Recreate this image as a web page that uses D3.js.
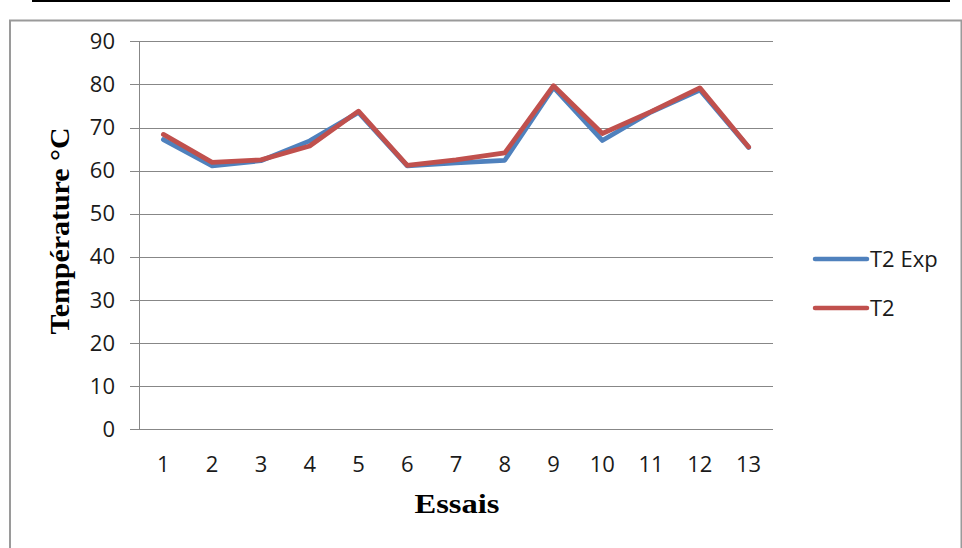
<!DOCTYPE html>
<html>
<head>
<meta charset="utf-8">
<script src="https://cdn.jsdelivr.net/npm/d3@7"></script>
<style>
  html, body { margin: 0; padding: 0; background: #fff; }
  svg { display: block; }
</style>
</head>
<body>
<svg id="chart" width="962" height="548"></svg>
<script>
// Trial numbers (x categories)
const essais = ["1","2","3","4","5","6","7","8","9","10","11","12","13"];
// Measured temperature T2 (experimental)
const t2Exp = [67.2, 61.1, 62.3, 66.9, 73.5, 61.1, 61.8, 62.4, 79.3, 67.0, 73.6, 78.7, 65.4];
// Computed temperature T2
const t2 = [68.4, 61.9, 62.5, 65.7, 73.8, 61.2, 62.5, 64.1, 79.7, 68.6, 73.7, 79.2, 65.5];
// Y axis ticks
const yTicks = [0, 10, 20, 30, 40, 50, 60, 70, 80, 90];

const seriesNames = ["T2 Exp", "T2"];
const seriesColors = ["#4f81bd", "#c0504d"];

const svg = d3.select("#chart");

// Page rule and chart frame
svg.append("line")
  .attr("x1", 32).attr("x2", 950).attr("y1", 1).attr("y2", 1)
  .attr("stroke", "#000").attr("stroke-width", 2);
svg.append("path")
  .attr("d", "M10,560 V20.5 H961.5 V560")
  .attr("fill", "none").attr("stroke", "#9a9a9a").attr("stroke-width", 2);

const plot = { left: 139, right: 773, top: 41.3, bottom: 429.3 };

const x = d3.scaleBand().domain(essais).range([plot.left, plot.right]);
const y = d3.scaleLinear().domain([0, 90]).range([plot.bottom, plot.top]);

const font = "'Open Sans', 'Noto Sans', sans-serif";

// Horizontal gridlines (including the baseline)
svg.append("g").selectAll("line").data(yTicks).join("line")
  .attr("x1", plot.left - 9).attr("x2", plot.right)
  .attr("y1", d => Math.round(y(d)) + 0.5).attr("y2", d => Math.round(y(d)) + 0.5)
  .attr("stroke", "#878787").attr("stroke-width", 1);

// Vertical axis line
svg.append("line")
  .attr("x1", plot.left + 0.5).attr("x2", plot.left + 0.5)
  .attr("y1", Math.round(y(90))).attr("y2", Math.round(y(0)) + 1)
  .attr("stroke", "#878787").attr("stroke-width", 1);

// Y tick labels
const yAxis = d3.axisLeft(y).tickValues(yTicks).tickSize(0).tickPadding(24);
const gy = svg.append("g").attr("transform", `translate(${plot.left},0)`).call(yAxis);
gy.select(".domain").remove();
gy.selectAll("text")
  .attr("font-family", font).attr("font-size", 22).attr("fill", "#1a1a1a");

// X tick labels
const xAxis = d3.axisBottom(x).tickSize(0).tickPadding(27);
const gx = svg.append("g").attr("transform", `translate(0,${plot.bottom})`).call(xAxis);
gx.select(".domain").remove();
gx.selectAll("text")
  .attr("font-family", font).attr("font-size", 22).attr("fill", "#1a1a1a");

// Series lines
const line = d3.line()
  .x((d, i) => x(essais[i]) + x.bandwidth() / 2)
  .y(d => y(d));

[t2Exp, t2].forEach((vals, k) => {
  svg.append("path")
    .datum(vals)
    .attr("d", line)
    .attr("fill", "none")
    .attr("stroke", seriesColors[k])
    .attr("stroke-width", 4.8)
    .attr("stroke-linejoin", "round")
    .attr("stroke-linecap", "round");
});

// Legend
const legend = svg.append("g");
seriesNames.forEach((name, k) => {
  const ly = 259 + k * 49;
  legend.append("line")
    .attr("x1", 815).attr("x2", 867).attr("y1", ly).attr("y2", ly)
    .attr("stroke", seriesColors[k]).attr("stroke-width", 4.5)
    .attr("stroke-linecap", "round");
  legend.append("text")
    .attr("x", 870).attr("y", ly + 8)
    .attr("font-family", font).attr("font-size", 22).attr("fill", "#1a1a1a")
    .text(name);
});

// Axis titles
svg.append("text")
  .attr("x", 457).attr("y", 513)
  .attr("text-anchor", "middle")
  .attr("font-family", "'Liberation Serif', 'Times New Roman', serif")
  .attr("font-weight", "bold").attr("font-size", 27)
  .attr("textLength", 85).attr("lengthAdjust", "spacingAndGlyphs")
  .attr("fill", "#000")
  .text("Essais");

svg.append("text")
  .attr("transform", "translate(69,231) rotate(-90)")
  .attr("text-anchor", "middle")
  .attr("font-family", "'Liberation Serif', 'Times New Roman', serif")
  .attr("font-weight", "bold").attr("font-size", 28)
  .attr("textLength", 207).attr("lengthAdjust", "spacingAndGlyphs")
  .attr("fill", "#000")
  .text("Température °C");
</script>
</body>
</html>
